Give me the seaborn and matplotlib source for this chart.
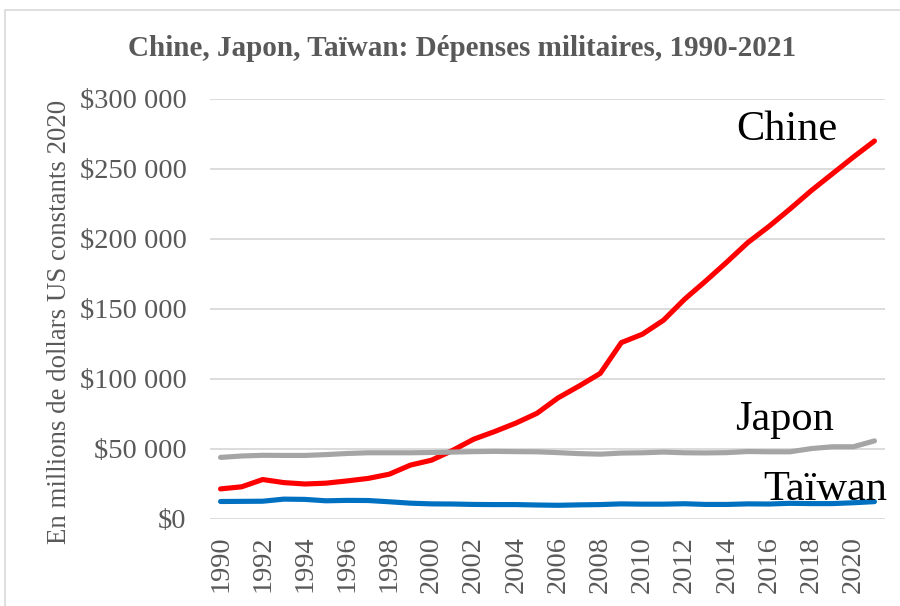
import matplotlib
matplotlib.use("Agg")
import matplotlib.pyplot as plt
import seaborn as sns
import pandas as pd
import numpy as np
from matplotlib.ticker import FuncFormatter
from matplotlib.patches import Rectangle

years = list(range(1990, 2022))
chine = [21500, 23000, 28200, 26000, 25000, 25600, 27200, 29000, 32000, 38500,
         42000, 49000, 57000, 62500, 68500, 75500, 86500, 95000, 104000, 126000,
         132000, 142000, 157000, 170000, 183500, 197500, 209000, 221500, 234500, 246500,
         258500, 270000]
japon = [44000, 45000, 45500, 45400, 45400, 46000, 46800, 47300, 47300, 47300,
         47500, 47800, 48100, 48300, 48100, 48000, 47400, 46700, 46300, 47100,
         47300, 47800, 47300, 47200, 47400, 48200, 48000, 48000, 50300, 51600,
         51600, 55800]
taiwan = [12500, 12600, 12700, 14200, 14000, 13000, 13300, 13200, 12300, 11300,
          10800, 10700, 10400, 10300, 10300, 10000, 9800, 10100, 10300, 10800,
          10600, 10600, 10900, 10400, 10400, 10800, 10700, 11200, 11000, 11000,
          11600, 12400]
series = ["Chine", "Japon", "Taïwan"]
colors = ["#FF0000", "#A5A5A5", "#0070C0"]
title = "Chine, Japon, Taïwan: Dépenses militaires, 1990-2021"
ylabel = "En millions de dollars US constants 2020"

df = pd.DataFrame({
    "year": years * 3,
    "value": chine + japon + taiwan,
    "pays": [series[0]] * len(years) + [series[1]] * len(years) + [series[2]] * len(years),
})

sns.set_theme(style="white")
plt.rcParams["font.family"] = ["Liberation Serif", "DejaVu Serif"]

fig = plt.figure(figsize=(9, 6.06), dpi=100)
ax = fig.add_axes([210 / 900, 1 - 519 / 606, 675 / 900, 420 / 606])

sns.lineplot(data=df, x="year", y="value", hue="pays", palette=dict(zip(series, colors)),
             linewidth=3.7, ax=ax, legend=False, zorder=3)
for l in ax.lines:
    l.set_solid_capstyle("round")
    l.set_solid_joinstyle("round")

ax.set_xlim(1989.5, 2021.5)
ax.set_ylim(0, 300000)
ax.set_yticks(np.arange(0, 300001, 50000))
ax.set_xticks(list(range(1990, 2021, 2)))
ax.yaxis.set_major_formatter(FuncFormatter(lambda v, p: "$" + f"{int(v):,}".replace(",", " ")))
ax.tick_params(axis="y", labelsize=20.5, labelcolor="#595959", length=0, pad=17)
ax.tick_params(axis="x", labelsize=20.5, labelcolor="#595959", length=0, pad=12, rotation=90)
ax.grid(axis="y", color="#D9D9D9", linewidth=1.3, zorder=0)
ax.grid(axis="x", visible=False)
for s in ax.spines.values():
    s.set_visible(False)
ax.set_xlabel("")
ax.set_ylabel("")

fig.text(59 / 900, 1 - 322 / 606, ylabel, rotation=90, ha="center", va="center",
         fontsize=19.4, color="#595959")
fig.text(462 / 900, 1 - 48 / 606, title, ha="center", va="center", fontsize=21,
         fontweight="bold", color="#595959")

ax.text(26.85 + 1989.5 + 0.5, 277800, "Chine", fontsize=30.5, ha="center", va="center", color="black", zorder=5)
ax.text(26.75 + 1989.5 + 0.5, 70700, "Japon", fontsize=30.5, ha="center", va="center", color="black", zorder=5)
ax.text(28.65 + 1989.5 + 0.5, 20700, "Taïwan", fontsize=30.5, ha="center", va="center", color="black", zorder=5)

fig.patches.append(Rectangle((5 / 900, -0.05), 1.0, 1.05 - 10 / 606, transform=fig.transFigure,
                             fill=False, edgecolor="#D9D9D9", linewidth=1.2))

fig.savefig("out.png", dpi=100)
